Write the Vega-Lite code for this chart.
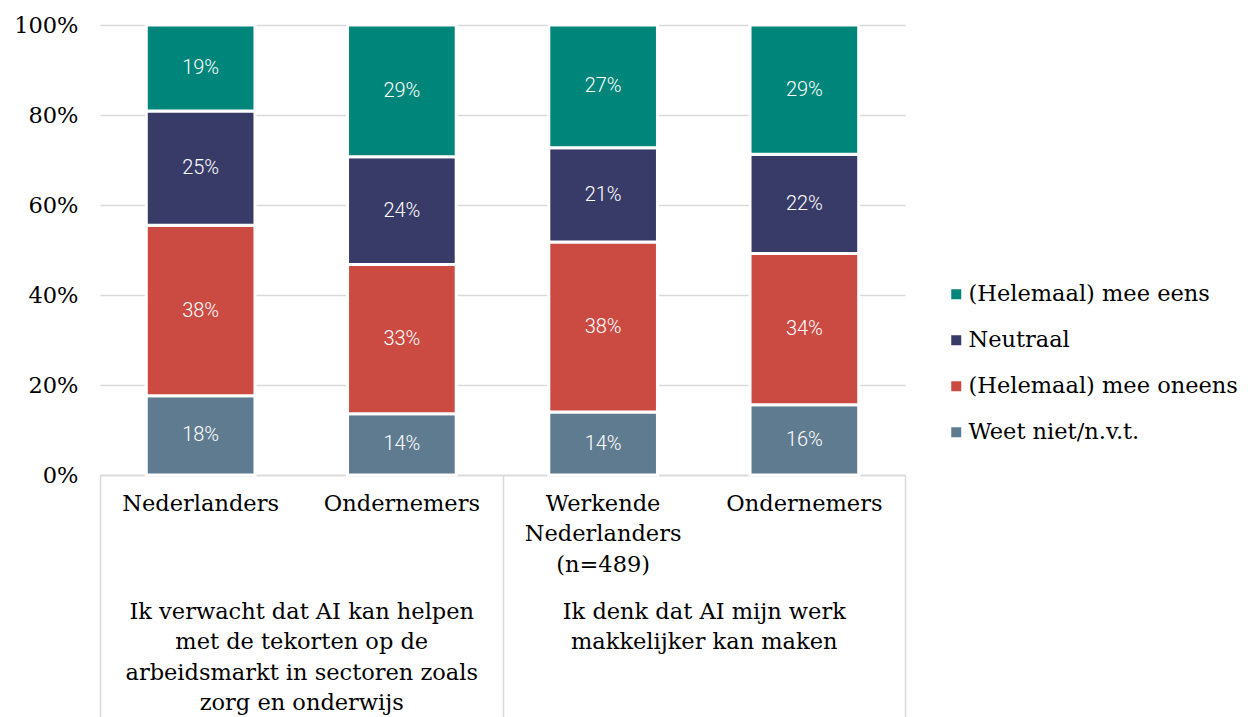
{
  "$schema": "https://vega.github.io/schema/vega-lite/v6.json",
  "width": 805,
  "height": 450,
  "autosize": {"type": "none"},
  "padding": {"left": 100, "top": 25, "right": 343, "bottom": 242},
  "background": "white",
  "config": {"view": {"stroke": null}, "font": "DejaVu Serif"},
  "datasets": {
    "shares": [
      {"bar": "1|Nederlanders", "answer": "Weet niet/n.v.t.", "order": 1, "value": 0.176},
      {"bar": "1|Nederlanders", "answer": "(Helemaal) mee oneens", "order": 2, "value": 0.379},
      {"bar": "1|Nederlanders", "answer": "Neutraal", "order": 3, "value": 0.254},
      {"bar": "1|Nederlanders", "answer": "(Helemaal) mee eens", "order": 4, "value": 0.191},
      {"bar": "2|Ondernemers", "answer": "Weet niet/n.v.t.", "order": 1, "value": 0.136},
      {"bar": "2|Ondernemers", "answer": "(Helemaal) mee oneens", "order": 2, "value": 0.332},
      {"bar": "2|Ondernemers", "answer": "Neutraal", "order": 3, "value": 0.239},
      {"bar": "2|Ondernemers", "answer": "(Helemaal) mee eens", "order": 4, "value": 0.293},
      {"bar": "3|Werkende|Nederlanders|(n=489)", "answer": "Weet niet/n.v.t.", "order": 1, "value": 0.140},
      {"bar": "3|Werkende|Nederlanders|(n=489)", "answer": "(Helemaal) mee oneens", "order": 2, "value": 0.378},
      {"bar": "3|Werkende|Nederlanders|(n=489)", "answer": "Neutraal", "order": 3, "value": 0.209},
      {"bar": "3|Werkende|Nederlanders|(n=489)", "answer": "(Helemaal) mee eens", "order": 4, "value": 0.273},
      {"bar": "4|Ondernemers", "answer": "Weet niet/n.v.t.", "order": 1, "value": 0.156},
      {"bar": "4|Ondernemers", "answer": "(Helemaal) mee oneens", "order": 2, "value": 0.336},
      {"bar": "4|Ondernemers", "answer": "Neutraal", "order": 3, "value": 0.221},
      {"bar": "4|Ondernemers", "answer": "(Helemaal) mee eens", "order": 4, "value": 0.287}
    ],
    "groups": [
      {"group": "Ik verwacht dat AI kan helpen|met de tekorten op de|arbeidsmarkt in sectoren zoals|zorg en onderwijs"},
      {"group": "Ik denk dat AI mijn werk|makkelijker kan maken"}
    ]
  },
  "layer": [
    {
      "data": {"name": "shares"},
      "transform": [
        {"stack": "value", "groupby": ["bar"], "sort": [{"field": "order"}], "as": ["v0", "v1"]},
        {"calculate": "(datum.v0 + datum.v1) / 2", "as": "mid"}
      ],
      "encoding": {
        "x": {
          "field": "bar", "type": "nominal", "sort": null,
          "scale": {"paddingInner": 0.46, "paddingOuter": 0.23},
          "axis": {
            "orient": "bottom", "title": null, "labelAngle": 0, "ticks": false,
            "domain": true, "domainColor": "#D9D9D9", "domainWidth": 1.5,
            "labelFont": "DejaVu Serif", "labelFontSize": 22.5, "labelColor": "black",
            "labelBaseline": "top", "labelPadding": 17, "labelLineHeight": 30.5, "labelLimit": 0,
            "labelExpr": "slice(split(datum.value, '|'), 1)"
          }
        }
      },
      "layer": [
        {
          "mark": {"type": "bar", "stroke": "white", "strokeWidth": 3},
          "encoding": {
            "y": {
              "field": "v0", "type": "quantitative",
              "scale": {"domain": [0, 1], "nice": false},
              "axis": {
                "title": null, "values": [0, 0.2, 0.4, 0.6, 0.8, 1], "format": ".0%",
                "ticks": false, "domain": false, "grid": true, "gridColor": "#D9D9D9", "gridWidth": 1.5,
                "labelFont": "DejaVu Serif", "labelFontSize": 22.5, "labelColor": "black", "labelPadding": 22
              }
            },
            "y2": {"field": "v1"},
            "color": {
              "field": "answer", "type": "nominal",
              "scale": {
                "domain": ["(Helemaal) mee eens", "Neutraal", "(Helemaal) mee oneens", "Weet niet/n.v.t."],
                "range": ["#00857A", "#383B68", "#CB4B43", "#5F7B90"]
              },
              "legend": {
                "title": null, "orient": "none", "legendX": 845, "legendY": 258,
                "symbolType": "square", "symbolSize": 100, "symbolStrokeWidth": 0,
                "labelFont": "DejaVu Serif", "labelFontSize": 22.5, "labelColor": "black",
                "labelOffset": 1, "rowPadding": 23, "labelLimit": 0
              }
            }
          }
        },
        {
          "mark": {"type": "text", "font": "Roboto", "fontSize": 20, "fontWeight": 300, "color": "white"},
          "encoding": {
            "y": {"field": "mid", "type": "quantitative"},
            "text": {"field": "value", "type": "quantitative", "format": ".0%"}
          }
        }
      ]
    },
    {
      "data": {"name": "groups"},
      "mark": {"type": "point", "opacity": 0},
      "encoding": {
        "x": {
          "field": "group", "type": "nominal", "sort": null,
          "scale": {"paddingInner": 0, "paddingOuter": 0},
          "axis": {
            "orient": "bottom", "title": null, "labelAngle": 0, "domain": false, "grid": false,
            "ticks": true, "tickBand": "extent", "tickSize": 242, "tickColor": "#D9D9D9", "tickWidth": 1.5,
            "labelFont": "DejaVu Serif", "labelFontSize": 22.5, "labelColor": "black",
            "labelBaseline": "top", "labelPadding": -117, "labelLineHeight": 30.5, "labelLimit": 0,
            "labelExpr": "datum.value == null ? '' : split(datum.value, '|')"
          }
        }
      }
    }
  ],
  "resolve": {"scale": {"x": "independent"}}
}
